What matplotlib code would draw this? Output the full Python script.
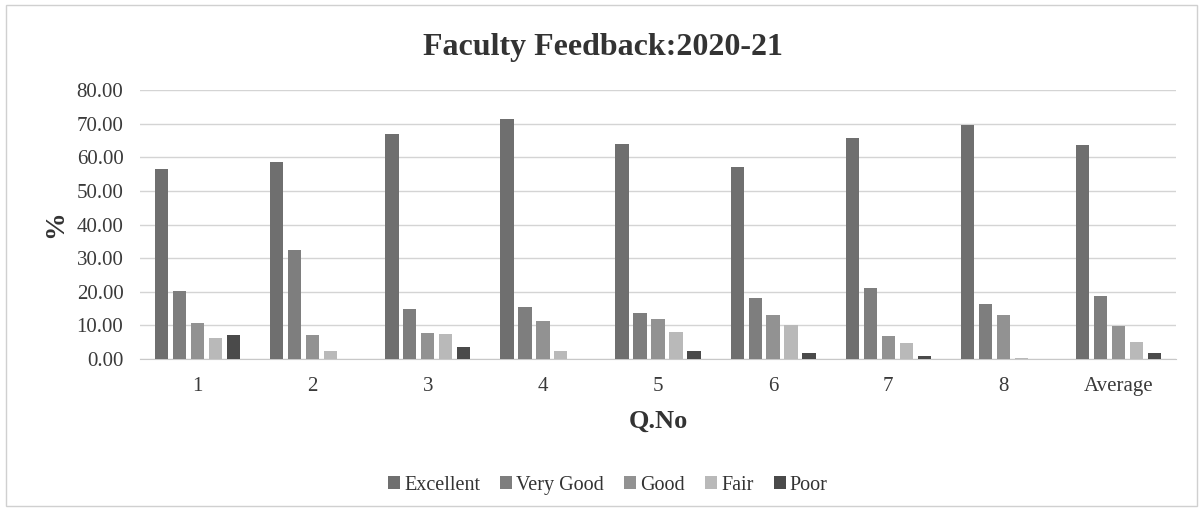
import numpy as np
import matplotlib.pyplot as plt
from matplotlib.patches import Rectangle

plt.rcParams['font.family'] = ['Liberation Serif', 'DejaVu Serif']

questions = ['1', '2', '3', '4', '5', '6', '7', '8', 'Average']
excellent = [56.6, 58.7, 66.9, 71.4, 63.9, 57.1, 65.6, 69.5, 63.5]
very_good = [20.2, 32.4, 15.0, 15.6, 13.8, 18.0, 21.0, 16.5, 18.8]
good = [10.7, 7.1, 7.7, 11.2, 12.0, 13.1, 6.7, 13.0, 9.9]
fair = [6.3, 2.5, 7.4, 2.4, 8.1, 10.2, 4.9, 0.3, 5.0]
poor = [7.1, 0.0, 3.6, 0.0, 2.5, 1.7, 1.0, 0.0, 1.7]

series = [('Excellent', excellent, '#6f6f6f'),
          ('Very Good', very_good, '#7e7e7e'),
          ('Good', good, '#929292'),
          ('Fair', fair, '#b9b9b9'),
          ('Poor', poor, '#4a4a4a')]

fig = plt.figure(figsize=(11.99, 5.12), dpi=100)
ax = fig.add_axes([0.1168, 0.2988, 0.864, 0.5254])

x = np.arange(len(questions))
pitch = 0.156
width = 0.115
for i, (name, vals, col) in enumerate(series):
    ax.bar(x + (i - 2) * pitch, vals, width, color=col, label=name, zorder=3)

ax.set_xlim(-0.5, len(questions) - 0.5)
ax.set_ylim(0, 80)
ax.set_yticks(np.arange(0, 81, 10))
ax.set_yticklabels(['%.2f' % v for v in np.arange(0, 81, 10)], fontsize=15, color='#3a3a3a')
ax.set_xticks(x)
ax.set_xticklabels(questions, fontsize=15, color='#3a3a3a')
ax.tick_params(axis='y', length=0, pad=12)
ax.tick_params(axis='x', length=0, pad=13)
ax.grid(axis='y', color='#d4d4d4', linewidth=1, zorder=0)
for s in ['top', 'right', 'left']:
    ax.spines[s].set_visible(False)
ax.spines['bottom'].set_color('#c8c8c8')

ax.set_xlabel('Q.No', fontsize=19, fontweight='bold', color='#333333', labelpad=10)
ax.set_ylabel('%', fontsize=20, fontweight='bold', color='#333333', labelpad=6)

fig.text(0.503, 0.908, 'Faculty Feedback:2020-21', ha='center', va='center',
         fontsize=23, fontweight='bold', color='#333333')

fig.legend(loc='center', bbox_to_anchor=(0.507, 0.052), ncol=5, frameon=False,
           fontsize=14.5, handlelength=0.6, handleheight=0.6, handletextpad=0.2,
           columnspacing=1.0, labelcolor='#333333')

fig.patches.append(Rectangle((0.005, 0.012), 0.993, 0.978, transform=fig.transFigure,
                             fill=False, edgecolor='#d0d0d0', linewidth=1))

fig.savefig('out.png', dpi=100)
